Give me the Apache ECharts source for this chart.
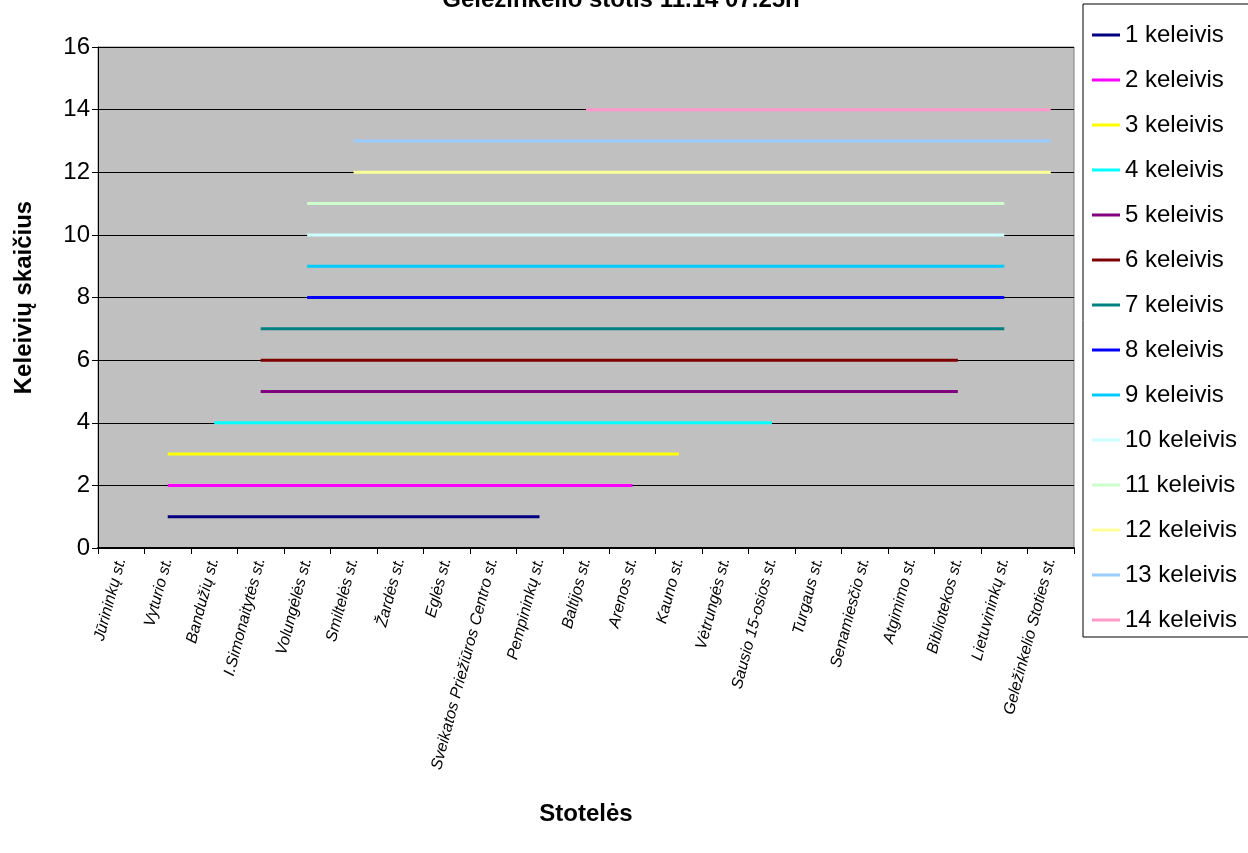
<!DOCTYPE html>
<html>
<head>
<meta charset="utf-8">
<script src="https://cdn.jsdelivr.net/npm/echarts@6/dist/echarts.min.js"></script>
<style>html,body{margin:0;padding:0;background:#fff}#c{width:1248px;height:853px}</style>
</head>
<body>
<div id="c"></div>
<script>
const titleText = 'Geležinkelio stotis 11.14 07.25h';
const categories = ['Jūrininkų st.','Vyturio st.','Bandužių st.','I.Simonaitytės st.','Volungėlės st.','Smiltelės st.','Žardės st.','Eglės st.','Sveikatos Priežiūros Centro st.','Pempininkų st.','Baltijos st.','Arenos st.','Kauno st.','Vėtrungės st.','Sausio 15-osios st.','Turgaus st.','Senamiesčio st.','Atgimimo st.','Bibliotekos st.','Lietuvininkų st.','Geležinkelio Stoties st.'];
const seriesNames = ['1 keleivis','2 keleivis','3 keleivis','4 keleivis','5 keleivis','6 keleivis','7 keleivis','8 keleivis','9 keleivis','10 keleivis','11 keleivis','12 keleivis','13 keleivis','14 keleivis'];
const colors = ['#000080','#FF00FF','#FFFF00','#00FFFF','#800080','#800000','#008080','#0000FF','#00CCFF','#CCFFFF','#CCFFCC','#FFFF99','#99CCFF','#FF99CC'];
const _ = null;
const s1  = [_,1,1,1,1,1,1,1,1,1,_,_,_,_,_,_,_,_,_,_,_];
const s2  = [_,2,2,2,2,2,2,2,2,2,2,2,_,_,_,_,_,_,_,_,_];
const s3  = [_,3,3,3,3,3,3,3,3,3,3,3,3,_,_,_,_,_,_,_,_];
const s4  = [_,_,4,4,4,4,4,4,4,4,4,4,4,4,4,_,_,_,_,_,_];
const s5  = [_,_,_,5,5,5,5,5,5,5,5,5,5,5,5,5,5,5,5,_,_];
const s6  = [_,_,_,6,6,6,6,6,6,6,6,6,6,6,6,6,6,6,6,_,_];
const s7  = [_,_,_,7,7,7,7,7,7,7,7,7,7,7,7,7,7,7,7,7,_];
const s8  = [_,_,_,_,8,8,8,8,8,8,8,8,8,8,8,8,8,8,8,8,_];
const s9  = [_,_,_,_,9,9,9,9,9,9,9,9,9,9,9,9,9,9,9,9,_];
const s10 = [_,_,_,_,10,10,10,10,10,10,10,10,10,10,10,10,10,10,10,10,_];
const s11 = [_,_,_,_,11,11,11,11,11,11,11,11,11,11,11,11,11,11,11,11,_];
const s12 = [_,_,_,_,_,12,12,12,12,12,12,12,12,12,12,12,12,12,12,12,12];
const s13 = [_,_,_,_,_,13,13,13,13,13,13,13,13,13,13,13,13,13,13,13,13];
const s14 = [_,_,_,_,_,_,_,_,_,_,14,14,14,14,14,14,14,14,14,14,14];
const seriesData = [s1,s2,s3,s4,s5,s6,s7,s8,s9,s10,s11,s12,s13,s14];
const yTicks = {min:0, max:16, interval:2};

const chart = echarts.init(document.getElementById('c'), null, {renderer:'canvas'});
const font = 'Arial, "Liberation Sans", sans-serif';
chart.setOption({
  animation:false,
  backgroundColor:'#fff',
  title:{text:titleText, left:616, textAlign:'center', top:-17,
    textStyle:{fontFamily:font, fontSize:24, fontWeight:'bold', color:'#000'}},
  legend:{orient:'vertical', left:1083, top:4, icon:'rect', itemWidth:28, itemHeight:3,
    itemGap:21, padding:[19,30,5,9], borderColor:'#000', borderWidth:1,
    textStyle:{fontFamily:font, fontSize:24, color:'#000'},
    data:seriesNames},
  grid:{left:98, top:47, width:976, height:501, show:true, backgroundColor:'#C0C0C0',
    borderColor:'#808080', borderWidth:1},
  xAxis:{type:'category', data:categories, boundaryGap:true,
    name:'Stotelės', nameLocation:'middle', nameGap:254,
    nameTextStyle:{fontFamily:font, fontSize:24, fontWeight:'bold', color:'#000'},
    axisLine:{lineStyle:{color:'#000', width:2}},
    axisTick:{show:true, alignWithLabel:false, length:6, lineStyle:{color:'#000'}},
    axisLabel:{interval:0, rotate:75, fontFamily:font, fontSize:16, fontStyle:'italic', color:'#000', margin:10}},
  yAxis:{type:'value', min:yTicks.min, max:yTicks.max, interval:yTicks.interval,
    name:'Keleivių skaičius', nameLocation:'middle', nameGap:62, nameRotate:90,
    nameTextStyle:{fontFamily:font, fontSize:24, fontWeight:'bold', color:'#000'},
    axisLine:{show:true, lineStyle:{color:'#000'}},
    axisTick:{show:true, length:6, lineStyle:{color:'#000'}},
    splitLine:{show:true, lineStyle:{color:'#000', width:1}},
    axisLabel:{fontFamily:font, fontSize:24, color:'#000', margin:8}},
  series: seriesData.map((d,i)=>({
    name:seriesNames[i], type:'line', data:d, showSymbol:false, symbol:'none',
    connectNulls:false, color:colors[i],
    lineStyle:{width:3, color:colors[i]}, z:3+i
  }))
});
</script>
</body>
</html>
